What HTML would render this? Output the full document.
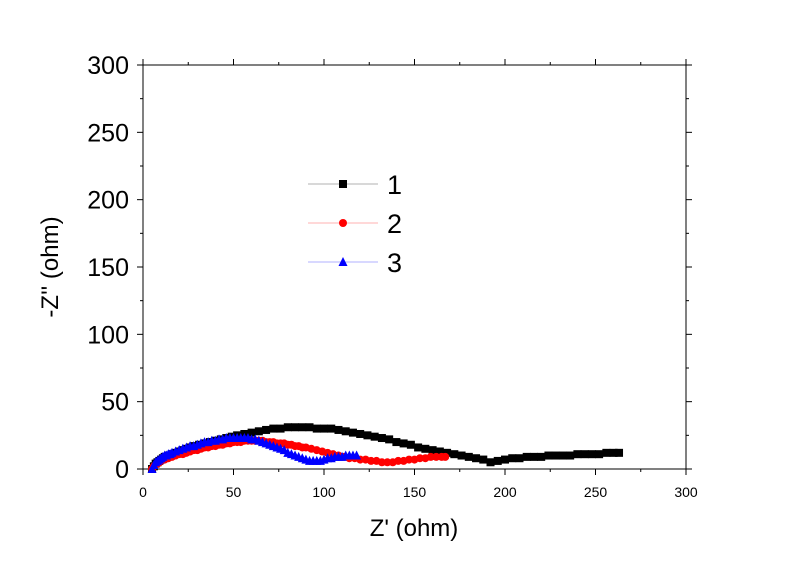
<!DOCTYPE html>
<html><head><meta charset="utf-8"><style>
body{margin:0;background:#fff;width:800px;height:564px;overflow:hidden}
svg text{font-family:"Liberation Sans",Arial,sans-serif;fill:#000}
</style></head><body>
<svg id="chart" width="800" height="564" xmlns="http://www.w3.org/2000/svg">
<g id="axes"></g>
<g id="series"></g>
<g id="legend"></g>
<text x="414" y="536" font-size="24" text-anchor="middle">Z' (ohm)</text>
<text transform="translate(58,267) rotate(-90)" font-size="24" text-anchor="middle">-Z'' (ohm)</text>
</svg>
<script>
const xTicks=[0,50,100,150,200,250,300];
const yTicks=[0,50,100,150,200,250,300];
const s1x=[5,6,7,8,9,10,11,12,14,16,18,20,22,24,26,28,31,34,37,40,43,46,49,52,56,60,64,68,72,76,80,84,88,92,96,100,104,108,112,116,120,124,128,132,136,140,144,148,152,156,160,164,168,172,176,180,184,188,192,196,200,204,208,212,216,220,224,228,232,236,240,244,248,252,256,260,263];
const s1y=[0,2,4,5,6,7,8,9,10,11,12,13,14,15,16,17,18,19,20,21,22,23,24,25,26,27,28,29,30,30,31,31,31,31,30,30,30,29,28,27,26,25,24,23,22,20,19,18,16,15,14,13,12,11,10,9,8,7,5,6,7,8,8,9,9,9,10,10,10,10,11,11,11,11,12,12,12];
const s2x=[5,6,7,8,9,10,11,12,13,14,16,18,20,22,24,26,28,30,32,34,36,38,40,42,44,46,48,50,52,54,56,58,60,62,64,66,68,70,72,74,76,78,80,82,84,86,88,90,93,96,99,102,105,108,111,114,117,120,123,126,129,132,135,138,141,144,147,150,153,156,159,162,165,167];
const s2y=[0,2,3,4,5,6,7,7,8,8,9,10,11,11,12,13,14,14,15,16,16,17,17,18,18,19,19,20,20,20,21,21,21,21,21,21,20,20,20,19,19,19,18,18,17,17,16,16,15,14,13,12,11,10,9,8,8,7,7,6,6,5,5,5,6,6,7,7,8,8,9,9,9,9];
const s3x=[5,6,7,8,9,10,11,12,13,14,15,16,18,20,22,24,26,28,30,32,34,36,38,40,42,44,46,48,50,52,54,56,58,60,62,64,66,68,70,72,74,76,78,80,82,84,86,88,90,92,94,96,98,100,102,104,106,108,110,112,114,116,118];
const s3y=[0,3,5,6,7,8,9,10,10,11,11,12,13,14,15,16,17,17,18,19,20,20,21,21,22,22,23,23,23,23,23,23,23,22,22,21,20,19,18,17,16,15,14,12,11,10,9,8,7,6,6,6,6,7,8,8,9,9,9,10,10,10,10];
const X0=143,X1=686,Y0=469,Y1=65;
const sx=v=>X0+(v-0)/300*(X1-X0);
const sy=v=>Y0-(v-0)/300*(Y0-Y1);
const NS="http://www.w3.org/2000/svg";
function mk(tag,attrs,parent){const e=document.createElementNS(NS,tag);for(const k in attrs)e.setAttribute(k,attrs[k]);parent.appendChild(e);return e;}
const axes=document.getElementById('axes');
const frame=mk('rect',{x:X0,y:Y1,width:X1-X0,height:Y0-Y1,fill:'none',stroke:'#000','stroke-width':1},axes);


for(let v=0;v<=300;v+=25){
  const major=v%50===0, L=major?6:3;
  mk('line',{x1:sx(v),x2:sx(v),y1:Y0,y2:Y0+L,stroke:'#000'},axes);
  mk('line',{x1:sx(v),x2:sx(v),y1:Y1,y2:Y1-L,stroke:'#000'},axes);
  mk('line',{x1:X0,x2:X0-L,y1:sy(v),y2:sy(v),stroke:'#000'},axes);
  mk('line',{x1:X1,x2:X1+L,y1:sy(v),y2:sy(v),stroke:'#000'},axes);
}
xTicks.forEach(v=>{const t=mk('text',{x:sx(v),y:Y0+28,'font-size':14,'text-anchor':'middle'},axes);t.textContent=v;

});
yTicks.forEach(v=>{const t=mk('text',{x:X0-14,y:sy(v)+9,'font-size':25,'text-anchor':'end'},axes);t.textContent=v;

});
function marker(kind,cx,cy,color,parent,s){
  if(kind==='sq')return mk('rect',{x:cx-s/2,y:cy-s/2,width:s,height:s,fill:color},parent);
  if(kind==='ci')return mk('circle',{cx:cx,cy:cy,r:s/2,fill:color},parent);
  return mk('polygon',{points:`${cx},${cy-s/2-1} ${cx-s/2-0.5},${cy+s/2} ${cx+s/2+0.5},${cy+s/2}`,fill:color},parent);
}
const ser=document.getElementById('series');
const defs=[[s1x,s1y,'#000','sq','series-1'],[s2x,s2y,'#f00','ci','series-2'],[s3x,s3y,'#00f','tr','series-3']];
defs.forEach(([xs,ys,c,k,n])=>{
  const g=mk('g',{},ser);
  
  
  mk('polyline',{points:xs.map((x,i)=>sx(x)+','+sy(ys[i])).join(' '),fill:'none',stroke:c,'stroke-width':0.8},g);
  xs.forEach((x,i)=>{const m=marker(k,sx(x),sy(ys[i]),c,g,8);
    
    });
});
const leg=document.getElementById('legend');
const labels=['1','2','3'];
defs.forEach(([xs,ys,c,k,n],i)=>{
  const y=184+i*39;
  const g=mk('g',{},leg);
  
  
  mk('line',{x1:308,x2:378,y1:y,y2:y,stroke:c,'stroke-width':0.6,opacity:0.6},g);
  marker(k,343,y,c,g,8);
  const t=mk('text',{x:387,y:y+10,'font-size':27},g);t.textContent=labels[i];
});
</script>
</body></html>
